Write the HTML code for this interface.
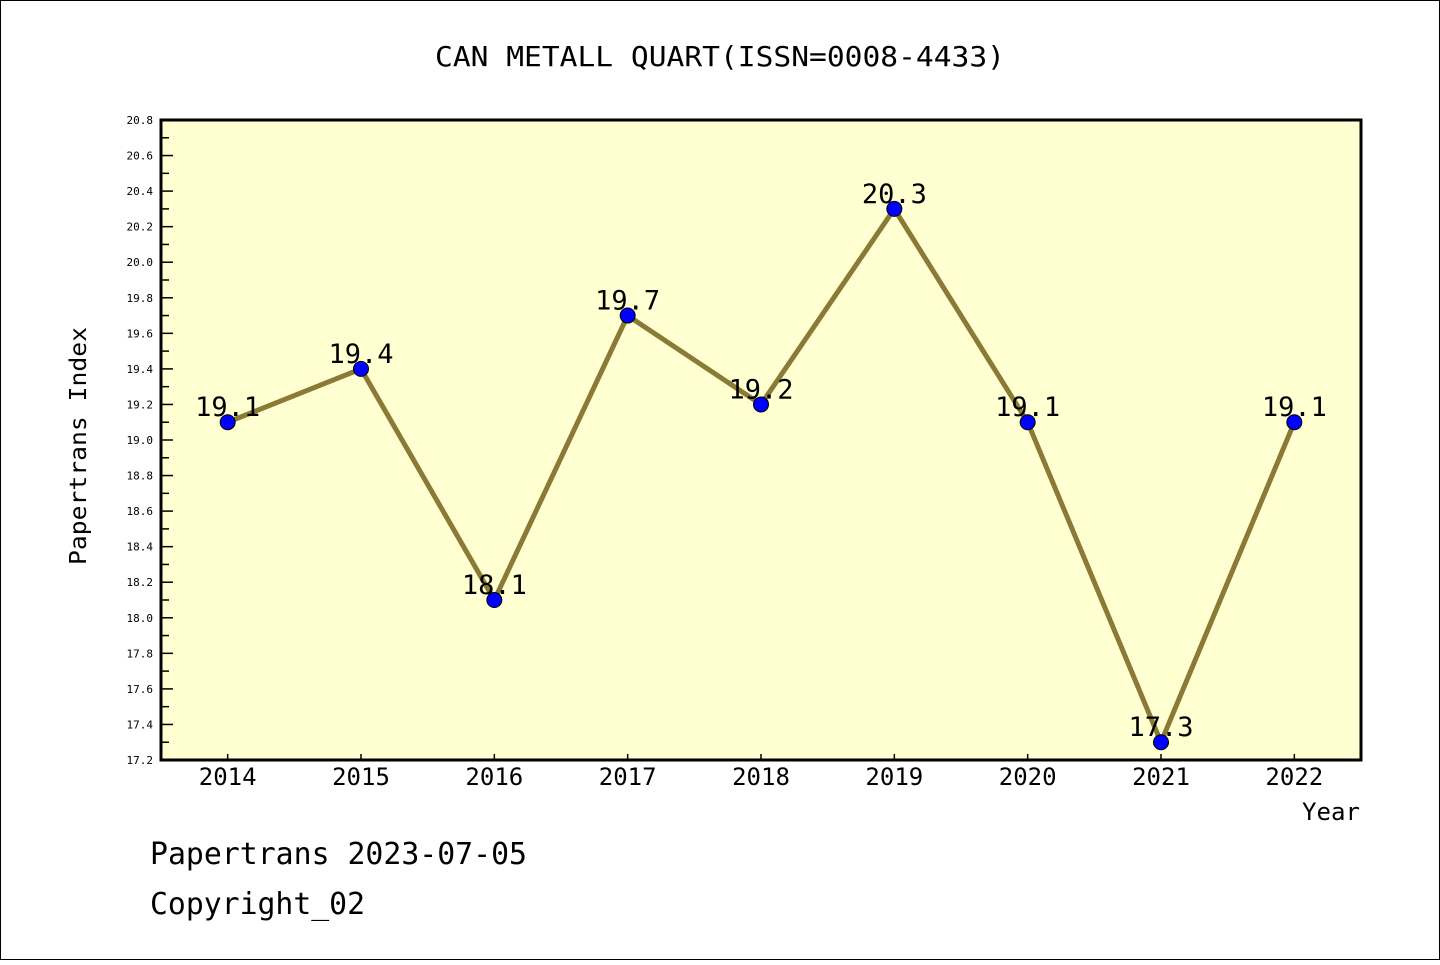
<!DOCTYPE html>
<html><head><meta charset="utf-8"><style>
body{margin:0;background:#fff}
svg text{font-family:"DejaVu Sans Mono","Liberation Mono",monospace;fill:#000}
</style></head><body>
<svg id="chart" width="1440" height="960" xmlns="http://www.w3.org/2000/svg">
<rect x="0.5" y="0.5" width="1439" height="959" fill="#fff" stroke="#000"/>
<text x="435" y="66" font-size="28" textLength="570" lengthAdjust="spacingAndGlyphs">CAN METALL QUART(ISSN=0008-4433)</text>
<rect x="161" y="120" width="1200" height="640" fill="#ffffd2"/>
<g id="axes"></g>
<g id="series"></g>
<rect x="161" y="120" width="1200" height="640" fill="none" stroke="#000" stroke-width="3"/>
<text x="86" y="446" font-size="23" text-anchor="middle" textLength="238" lengthAdjust="spacingAndGlyphs" transform="rotate(-90 86 446)">Papertrans Index</text>
<text x="1302" y="820" font-size="24" textLength="58" lengthAdjust="spacingAndGlyphs">Year</text>
<text x="150" y="864" font-size="30" textLength="377" lengthAdjust="spacingAndGlyphs">Papertrans 2023-07-05</text>
<text x="150" y="914" font-size="30" textLength="215" lengthAdjust="spacingAndGlyphs">Copyright_02</text>
</svg>
<script>
const years=[2014,2015,2016,2017,2018,2019,2020,2021,2022];
const values=[19.1,19.4,18.1,19.7,19.2,20.3,19.1,17.3,19.1];
const yTicks=[17.2,17.4,17.6,17.8,18.0,18.2,18.4,18.6,18.8,19.0,19.2,19.4,19.6,19.8,20.0,20.2,20.4,20.6,20.8];
const NS="http://www.w3.org/2000/svg";
const x=v=>161+(v-2013.5)/9*1200;
const y=v=>760-(v-17.2)/3.6*640;
function mk(t,a,p){const e=document.createElementNS(NS,t);for(const k in a)e.setAttribute(k,a[k]);p.appendChild(e);return e;}
const ax=document.getElementById('axes'),se=document.getElementById('series');
yTicks.forEach((t,i)=>{
  const l=mk('line',{x1:161,x2:173,y1:y(t),y2:y(t),stroke:'#000','stroke-width':1.5},ax);
  
  
  const tx=mk('text',{x:153,y:y(t)+4,'font-size':11,'text-anchor':'end'},ax);
  tx.textContent=t.toFixed(1);
  
  
  if(i<yTicks.length-1){
    const m=mk('line',{x1:161,x2:169,y1:y(t+0.1),y2:y(t+0.1),stroke:'#000','stroke-width':1.5},ax);
    
    
  }
});
years.forEach(yr=>{
  const l=mk('line',{x1:x(yr),x2:x(yr),y1:760,y2:754,stroke:'#000','stroke-width':1.5},ax);
  
  
  const tx=mk('text',{x:x(yr),y:785,'font-size':24,'text-anchor':'middle'},ax);
  tx.textContent=yr;
  
  
});
const pl=mk('polyline',{points:years.map((yr,i)=>x(yr)+','+y(values[i])).join(' '),fill:'none',stroke:'#8b7a35','stroke-width':5},se);


years.forEach((yr,i)=>{
  const c=mk('circle',{cx:x(yr),cy:y(values[i]),r:7.5,fill:'#0000ff',stroke:'#000','stroke-width':1},se);
  
  
  const t=mk('text',{x:x(yr),y:y(values[i])-6,'font-size':27,'text-anchor':'middle'},se);
  t.textContent=values[i].toFixed(1);
  
  
});
</script>
</body></html>
